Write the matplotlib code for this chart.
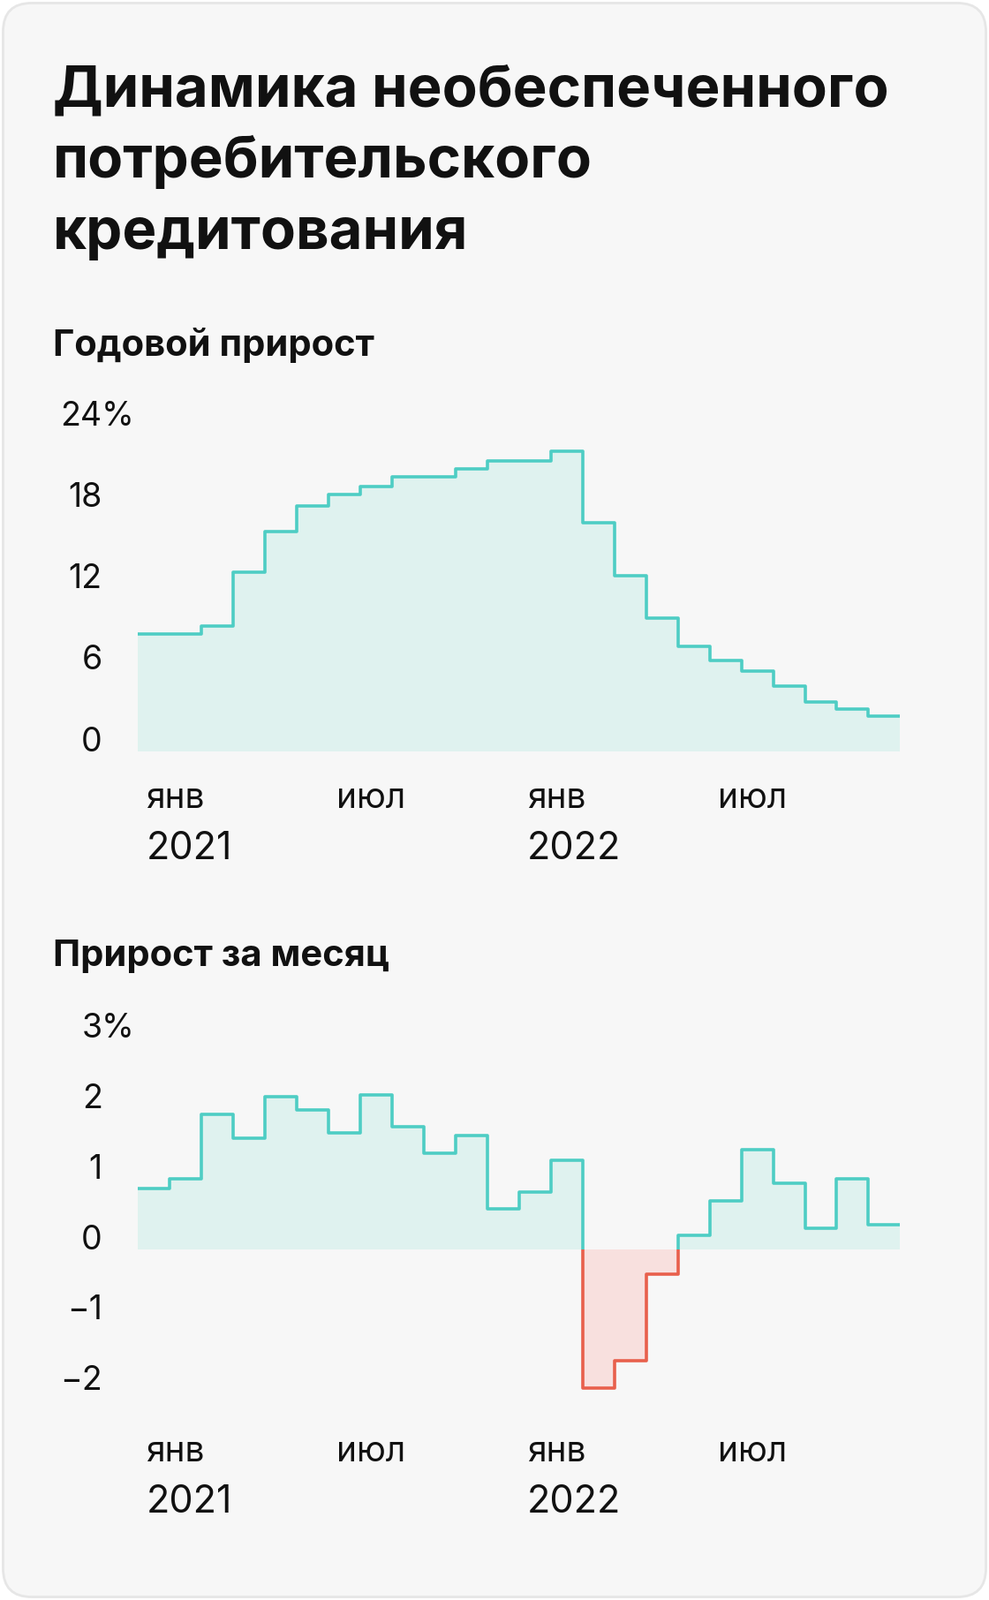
import matplotlib
matplotlib.use("Agg")
import matplotlib.pyplot as plt
from matplotlib.patches import FancyBboxPatch, Rectangle
import numpy as np

annual = [8.6, 8.6, 9.2, 13.2, 16.2, 18.1, 18.9, 19.5, 20.2, 20.2, 20.8, 21.4,
          21.4, 22.1, 16.8, 12.9, 9.8, 7.7, 6.7, 5.9, 4.8, 3.6, 3.1, 2.6]
monthly = [0.86, 1.0, 1.91, 1.57, 2.16, 1.97, 1.65, 2.19, 1.74, 1.36, 1.61, 0.57,
           0.81, 1.26, -1.97, -1.58, -0.36, 0.19, 0.68, 1.41, 0.94, 0.3, 1.0, 0.35]
top_ticks = [0, 6, 12, 18, 24]
bot_ticks = [-2, -1, 0, 1, 2, 3]
month_labels = {0: ("янв", "2021"), 6: ("июл", None), 12: ("янв", "2022"), 18: ("июл", None)}

FONT = "Inter"
W, H = 969, 1568
fig = plt.figure(figsize=(11.2, 18.12), dpi=100)
fig.patch.set_facecolor("white")

def fx(x): return x / W
def fy(y): return 1 - y / H

bg = fig.add_axes([0, 0, 1, 1]); bg.set_xlim(0, W); bg.set_ylim(H, 0); bg.axis("off")
bg.add_patch(FancyBboxPatch((3, 3), W - 6, H - 6, boxstyle="round,pad=0,rounding_size=28",
                            fc="#f7f7f7", ec="#e6e6e6", lw=2))

for i, t in enumerate(["Динамика необеспеченного", "потребительского", "кредитования"]):
    bg.text(52, 104 + 70 * i, t, fontsize=47, fontweight="bold", family=FONT, va="baseline", color="#111")
bg.text(52, 349, "Годовой прирост", fontsize=30, fontweight="bold", family=FONT, va="baseline", color="#111")
bg.text(52, 947, "Прирост за месяц", fontsize=30, fontweight="bold", family=FONT, va="baseline", color="#111")

TEAL, TEALF = "#4ecdc4", "#dff2ef"
RED, REDF = "#e8604c", "#f8e0de"
GRID = "#cfcfcf"

def panel(vals, ytop_px, ybot_px, ymin, ymax, ticks, lab_y1, lab_y2, line_end1, line_end2):
    ax = fig.add_axes([fx(135), fy(ybot_px), fx(882) - fx(135), fy(ytop_px) - fy(ybot_px)])
    ax.set_xlim(0, 24); ax.set_ylim(ymin, ymax); ax.axis("off")
    edges = np.arange(25)
    yy = np.append(vals, vals[-1])
    pos = Rectangle((0, 0), 24, 100, transform=ax.transData)
    neg = Rectangle((0, -100), 24, 100, transform=ax.transData)
    for clip, lc, fc in [(pos, TEAL, TEALF), (neg, RED, REDF)]:
        f = ax.fill_between(edges, yy, 0, step="post", color=fc, lw=0, zorder=1)
        f.set_clip_path(clip)
        l, = ax.plot(edges, yy, drawstyle="steps-post", color=lc, lw=2.6, zorder=3)
        l.set_clip_path(clip)
    def ypx(v):
        return ytop_px + (ymax - v) / (ymax - ymin) * (ybot_px - ytop_px)
    for m, (a, b) in month_labels.items():
        yend = line_end1 if b else line_end2
        xm = 135 + m * (882 - 135) / 24
        bg.plot([xm, xm], [ypx(vals[m]), yend], color=GRID, lw=1.2, zorder=0)
        bg.text(xm + 8, lab_y1, a, fontsize=28, family=FONT, va="baseline", color="#111")
        if b:
            bg.text(xm + 8, lab_y2, b, fontsize=31, family=FONT, va="baseline", color="#111")
    for t in ticks:
        s = str(t).replace("-", "\u2212")
        bg.text(100, ypx(t), s, fontsize=27, family=FONT, va="baseline", ha="right", color="#111")
        if t == ticks[-1]:
            bg.text(99, ypx(t), "%", fontsize=27, family=FONT, va="baseline", ha="left", color="#111")
    return ax

panel(annual, 417, 736, 0, 24, top_ticks, 792, 842, 845, 792)
panel(monthly, 1017, 1376, -2.2, 3, bot_ticks, 1432, 1482, 1486, 1434)

fig.savefig("out.png", dpi=100, facecolor="white")
